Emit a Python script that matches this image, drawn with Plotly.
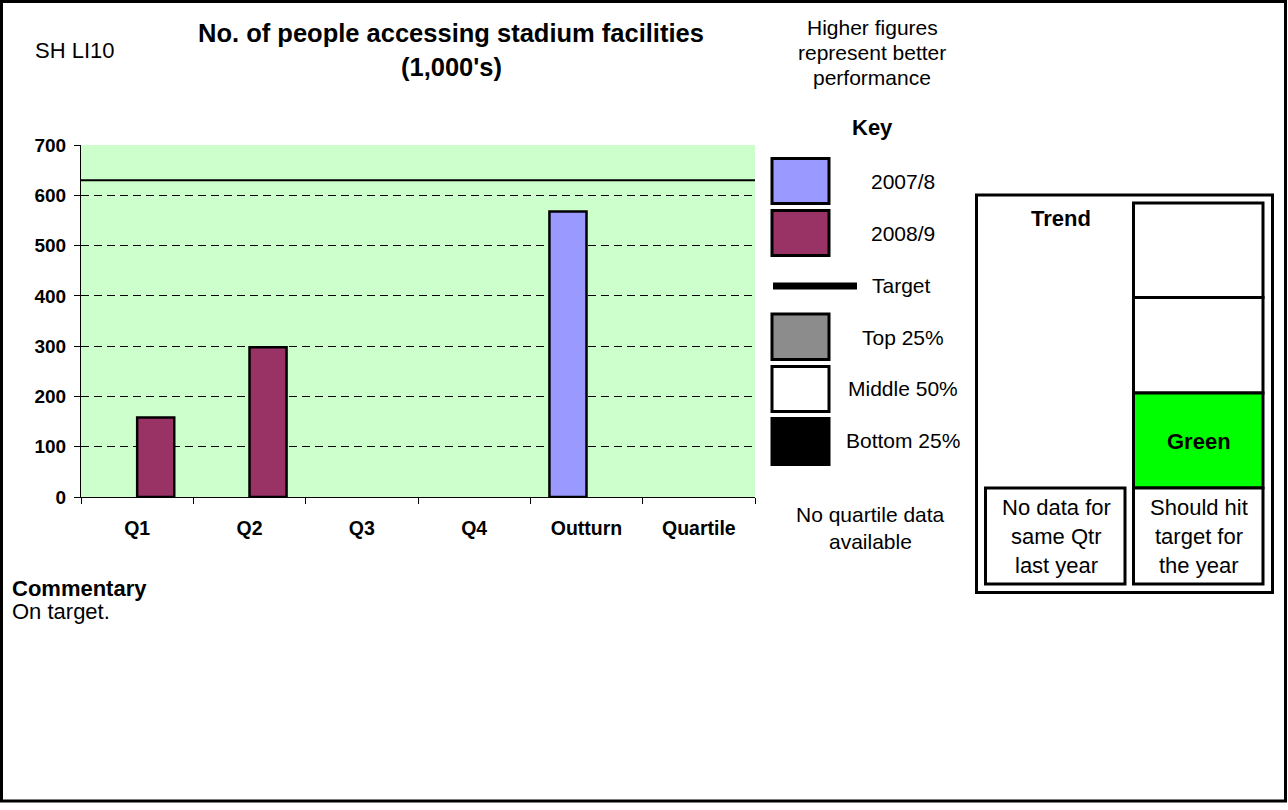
import plotly.graph_objects as go

# ---------------- data ----------------
CATEGORIES = ["Q1", "Q2", "Q3", "Q4", "Outturn", "Quartile"]
VALUES_2007_8 = [None, None, None, None, 568, None]
VALUES_2008_9 = [158, 298, None, None, None, None]
TARGET = 630
Y_TICKS = [0, 100, 200, 300, 400, 500, 600, 700]
SERIES_NAMES = ["2007/8", "2008/9"]
KEY_LABELS = ["2007/8", "2008/9", "Target", "Top 25%", "Middle 50%", "Bottom 25%"]

# ---------------- geometry helpers (pixel -> paper) ----------------
W, H = 1288, 810
L, R, T, B = 81, 755, 145, 497
FONT = "Liberation Sans, Arial, Helvetica, sans-serif"


def px(x):
    return (x - L) / (R - L)


def py(y):
    return (B - y) / (B - T)


shapes = []
annotations = []


def rect(x0, y0, x1, y1, fill="white", lw=2, lc="black"):
    shapes.append(dict(type="rect", xref="paper", yref="paper",
                       x0=px(x0), x1=px(x1), y0=py(y1), y1=py(y0),
                       fillcolor=fill, line=dict(color=lc, width=lw), layer="above"))


def text(x, y, s, size=21, bold=False, anchor="center"):
    annotations.append(dict(xref="paper", yref="paper", x=px(x), y=py(y),
                            text=f"<b>{s}</b>" if bold else s,
                            showarrow=False, xanchor=anchor, yanchor="middle",
                            font=dict(family=FONT, size=size, color="black")))


fig = go.Figure()
fig.add_trace(go.Bar(x=CATEGORIES, y=VALUES_2007_8, name=SERIES_NAMES[0],
                     marker=dict(color="#9999FF", line=dict(color="black", width=2.5))))
fig.add_trace(go.Bar(x=CATEGORIES, y=VALUES_2008_9, name=SERIES_NAMES[1],
                     marker=dict(color="#993366", line=dict(color="black", width=2.5))))

# target line
shapes.append(dict(type="line", xref="paper", yref="y", x0=0, x1=1, y0=TARGET, y1=TARGET,
                   line=dict(color="black", width=2)))

# outer frame
rect(1.5, 1.5, 1285.5, 801, fill="rgba(0,0,0,0)", lw=3)

# header texts
text(75, 51, "SH LI10", size=22)
text(451, 33, "No. of people accessing stadium facilities", size=25.5, bold=True)
text(451, 67, "(1,000's)", size=25.5, bold=True)
text(872, 27, "Higher figures", size=21)
text(872, 52, "represent better", size=21)
text(872, 77, "performance", size=21)
text(872, 127, "Key", size=22, bold=True)

# key
rect(772, 158.5, 829, 203.5, fill="#9999FF", lw=3)
rect(772, 210.5, 829, 255.5, fill="#993366", lw=3)
shapes.append(dict(type="line", xref="paper", yref="paper", x0=px(773), x1=px(857),
                   y0=py(286), y1=py(286), line=dict(color="black", width=7)))
rect(772, 314, 829, 359.5, fill="#8c8c8c", lw=3)
rect(772, 366.5, 829, 411.5, fill="white", lw=3)
rect(772, 418.5, 829, 464.5, fill="black", lw=3)
key_y = [181, 233, 285, 337, 388, 440]
for lab, yy in zip(KEY_LABELS, key_y):
    text(903 if lab != "Target" else 901, yy, lab, size=21)

text(870, 514, "No quartile data", size=21)
text(870, 541, "available", size=21)

# trend box
rect(976.5, 195, 1272.5, 592.5, fill="white", lw=3)
rect(1133.5, 203, 1263, 297.5, fill="white", lw=3)
rect(1133.5, 297.5, 1263, 393, fill="white", lw=3)
rect(1133.5, 393, 1263, 488, fill="#00FF00", lw=3)
rect(1133.5, 488, 1263, 584, fill="white", lw=3)
rect(985.5, 488, 1125, 584, fill="white", lw=3)
text(1061, 218, "Trend", size=22, bold=True)
text(1199, 441, "Green", size=22, bold=True)
for i, (a, b) in enumerate([("No data for", "Should hit"), ("same Qtr", "target for"),
                            ("last year", "the year")]):
    yy = [507, 536.5, 565][i]
    text(1056, yy, a, size=22)
    text(1199, yy, b, size=22)

# commentary
text(10, 588, "Commentary", size=22, bold=True, anchor="left")
text(10, 611, "On target.", size=22, anchor="left")

fig.update_layout(
    width=W, height=H,
    margin=dict(l=L, r=W - R, t=T, b=H - B, pad=0),
    paper_bgcolor="white", plot_bgcolor="#CCFFCC",
    barmode="group", bargap=0.34, bargroupgap=0,
    showlegend=False,
    shapes=shapes, annotations=annotations,
    font=dict(family=FONT, color="black"),
)
fig.update_xaxes(type="category", categoryorder="array", categoryarray=CATEGORIES,
                 showline=True, linecolor="black", linewidth=1,
                 ticks="outside", tickson="boundaries", ticklen=6, tickcolor="black",
                 tickfont=dict(family=FONT, size=19.5, color="black"),
                 ticklabelstandoff=14, showgrid=False, zeroline=False,
                 tickprefix="<b>", ticksuffix="</b>")
fig.update_yaxes(range=[0, 700], tickvals=Y_TICKS, ticktext=[f"<b>{v}</b>" for v in Y_TICKS],
                 showline=True, linecolor="black", linewidth=1,
                 ticks="outside", ticklen=6, tickcolor="black",
                 tickfont=dict(family=FONT, size=19, color="black"),
                 showgrid=True, gridcolor="black", gridwidth=1, griddash="8px,5px",
                 zeroline=False, ticklabelstandoff=4)

fig.write_html("out.html", config={"displayModeBar": False},
               post_script="document.body.style.margin='0';document.body.style.padding='0';")
